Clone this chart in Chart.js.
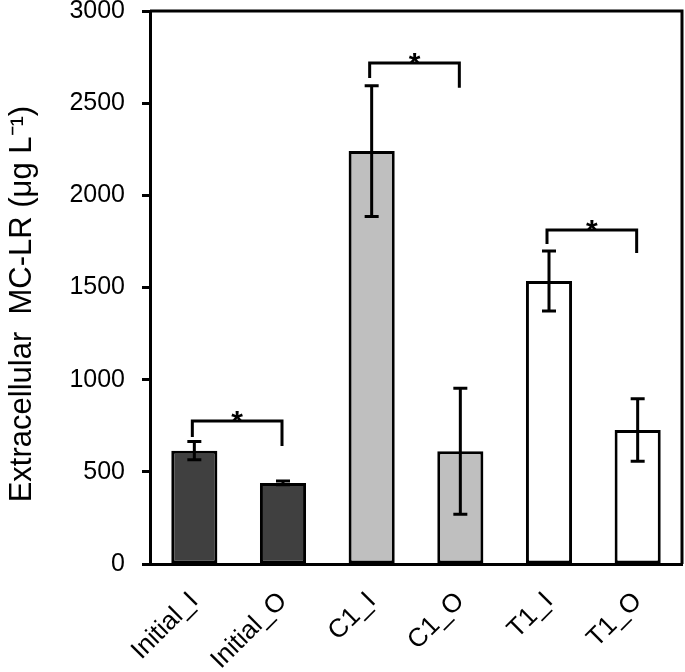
<!DOCTYPE html>
<html>
<head>
<meta charset="utf-8">
<script src="https://cdn.jsdelivr.net/npm/chart.js@4/dist/chart.umd.min.js"></script>
<style>
  body { margin: 0; background: #fff; }
  #wrap { width: 685px; height: 672px; }
</style>
</head>
<body>
<div id="wrap"><canvas id="myChart" width="685" height="672"></canvas></div>
<script>
// data
const labels = ['Initial_I', 'Initial_O', 'C1_I', 'C1_O', 'T1_I', 'T1_O'];
const means = [615, 440, 2240, 612, 1535, 727];
const errors = [50, 10, 355, 342, 163, 170];
const barColors = ['#404040', '#404040', '#bfbfbf', '#bfbfbf', '#ffffff', '#ffffff'];
const yTitle = 'Extracellular  MC-LR (μg L⁻¹)';

// significance brackets: [left bar, right bar]
const pairs = [[0, 1], [2, 3], [4, 5]];
const bracketTop = [776, 2718, 1812];
const bracketLeftEnd = [689, 2637, 1736];
const bracketRightEnd = [640, 2583, 1687];
const bracketMark = ['*', '*', '*'];

const FONT = "'Liberation Sans', Arial, sans-serif";

const extras = {
  id: 'extras',
  afterDatasetsDraw(chart) {
    const ctx = chart.ctx;
    const y = chart.scales.y;
    const meta = chart.getDatasetMeta(0);
    const area = chart.chartArea;
    ctx.save();
    ctx.strokeStyle = '#000';
    ctx.lineWidth = 3;
    ctx.lineCap = 'butt';

    // error bars
    means.forEach((m, i) => {
      const x = meta.data[i].x;
      const t = y.getPixelForValue(m + errors[i]);
      const b = y.getPixelForValue(m - errors[i]);
      ctx.beginPath();
      ctx.moveTo(x, t); ctx.lineTo(x, b);
      ctx.moveTo(x - 7, t); ctx.lineTo(x + 7, t);
      ctx.moveTo(x - 7, b); ctx.lineTo(x + 7, b);
      ctx.stroke();
    });

    // brackets
    ctx.lineJoin = 'miter';
    ctx.fillStyle = '#000';
    ctx.font = 'bold 30px ' + FONT;
    ctx.textAlign = 'center';
    ctx.textBaseline = 'alphabetic';
    pairs.forEach((p, k) => {
      const x1 = meta.data[p[0]].x - 2;
      const x2 = meta.data[p[1]].x - 1;
      const top = y.getPixelForValue(bracketTop[k]);
      ctx.beginPath();
      ctx.moveTo(x1, y.getPixelForValue(bracketLeftEnd[k]));
      ctx.lineTo(x1, top);
      ctx.lineTo(x2, top);
      ctx.lineTo(x2, y.getPixelForValue(bracketRightEnd[k]));
      ctx.stroke();
      ctx.fillText(bracketMark[k], (x1 + x2) / 2, top + 10);
    });

    // top and right frame
    ctx.beginPath();
    ctx.moveTo(area.left, area.top);
    ctx.lineTo(area.right, area.top);
    ctx.lineTo(area.right, area.bottom);
    ctx.stroke();

    // y axis title (sits a bit below the middle in the original)
    ctx.font = '31px ' + FONT;
    ctx.textBaseline = 'middle';
    ctx.translate(22, area.top + (area.bottom - area.top) * 0.53);
    ctx.rotate(-Math.PI / 2);
    ctx.fillText(yTitle, 0, 0);
    ctx.restore();
  }
};

new Chart(document.getElementById('myChart'), {
  type: 'bar',
  data: {
    labels: labels,
    datasets: [{
      data: means,
      backgroundColor: barColors,
      borderColor: '#000',
      borderWidth: 3,
      borderSkipped: false,
      categoryPercentage: 1,
      barPercentage: 0.52
    }]
  },
  options: {
    responsive: false,
    animation: false,
    events: [],
    layout: { padding: { top: 0, right: 3, left: 0, bottom: 0 } },
    plugins: { legend: { display: false }, tooltip: { enabled: false } },
    scales: {
      y: {
        min: 0,
        max: 3000,
        afterFit(s) { s.width = 150; s.paddingTop = 11; s.paddingBottom = 0; },
        ticks: {
          stepSize: 500,
          color: '#000',
          padding: 17,
          font: { family: FONT, size: 25 },
          callback: (v) => String(v)
        },
        grid: {
          drawOnChartArea: false,
          drawTicks: true,
          tickLength: 8,
          tickWidth: 3,
          tickColor: '#000'
        },
        border: { color: '#000', width: 3 }
      },
      x: {
        afterFit(s) { s.height = 108; },
        ticks: {
          color: '#000',
          minRotation: 45,
          maxRotation: 45,
          padding: 14,
          font: { family: FONT, size: 26 }
        },
        grid: { display: false },
        border: { color: '#000', width: 3 }
      }
    }
  },
  plugins: [extras]
});
</script>
</body>
</html>
